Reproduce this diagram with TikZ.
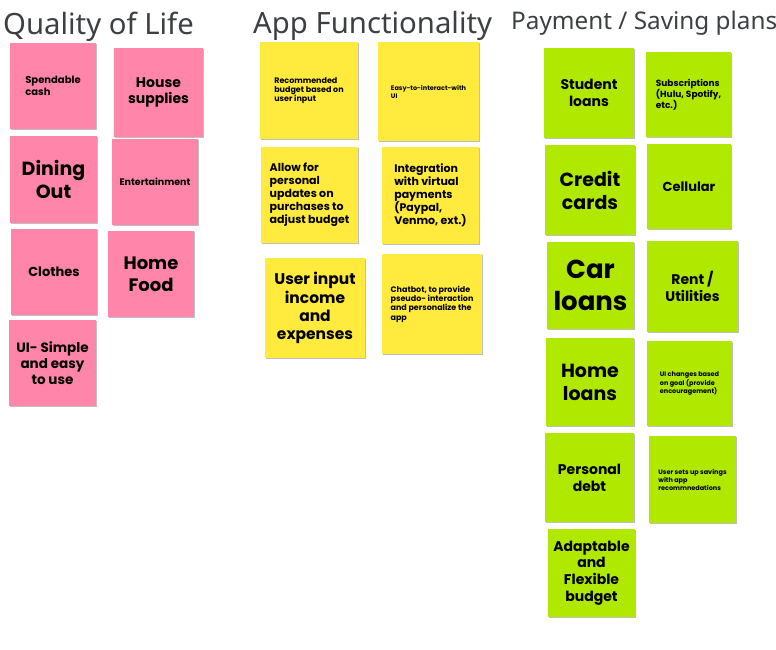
\documentclass[tikz,border=0pt]{standalone}
\usepackage{fontspec}
\setmainfont{Poppins}
\newfontfamily\titlefont{Noto Sans}
\usetikzlibrary{shadows}

\definecolor{notepink}{HTML}{FF85AA}
\definecolor{noteyellow}{HTML}{FFEA3D}
\definecolor{notegreen}{HTML}{B0E800}
\definecolor{titlegray}{HTML}{3D4043}

\newcommand{\notesize}[2]{\bfseries\fontsize{#1}{#2}\selectfont}

\begin{document}
\begin{tikzpicture}[x=1pt, y=-1pt,
    note/.style={inner sep=0pt, align=center,
        drop shadow={shadow xshift=0.6pt, shadow yshift=-1.2pt, opacity=0.25, fill=black}},
    pinknote/.style={note, fill=notepink},
    yellownote/.style={note, fill=noteyellow},
    greennote/.style={note, fill=notegreen},
    boardtitle/.style={anchor=base west, inner sep=0pt, text=titlegray}]

    \useasboundingbox (0,0) rectangle (776,649);

    % column titles
    \node (qol) at (3,34) [boardtitle, font=\titlefont\fontsize{29.3}{34}\selectfont] {Quality of Life};
    \node (app) at (253,33) [boardtitle, font=\titlefont\fontsize{29.3}{34}\selectfont] {App Functionality};
    \node (pay) at (511,29) [boardtitle, font=\titlefont\fontsize{24.3}{28}\selectfont] {Payment / Saving plans};

    % quality of life
    \node (spend) at (53,86) [pinknote, minimum width=86, minimum height=86, align=left, font={\notesize{10}{12}}] {Spendable\\cash};
    \node (house) at (158.5,92.5) [pinknote, minimum width=89, minimum height=89, font={\notesize{14}{16}}] {House\\supplies};
    \node (dining) at (53.5,179.5) [pinknote, minimum width=87, minimum height=87, font={\notesize{19}{23}}] {Dining\\Out};
    \node (enter) at (155,182) [pinknote, minimum width=86, minimum height=86, font={\notesize{9.5}{12}}] {Entertainment};
    \node (clothes) at (54,272) [pinknote, minimum width=86, minimum height=86, font={\notesize{13}{16}}] {Clothes};
    \node (homefood) at (151,274) [pinknote, minimum width=86, minimum height=86, font={\notesize{18}{22}}] {Home\\Food};
    \node (uisimple) at (52.5,363) [pinknote, minimum width=87, minimum height=86, font={\notesize{13.5}{16}}] {UI- Simple\\and easy\\to use};

    % app functionality
    \node (recom) at (309,90.5) [yellownote, minimum width=98, minimum height=97, align=left, font={\notesize{8}{9.3}}] {Recommended\\budget based on\\user input};
    \node (easy) at (428.5,91.5) [yellownote, minimum width=101, minimum height=99, align=left, font={\notesize{6.5}{8}}] {Easy-to-interact-with\\UI};
    \node (allow) at (309.5,195) [yellownote, minimum width=97, minimum height=96, align=left, font={\notesize{11}{13}}] {Allow for\\personal\\updates on\\purchases to\\adjust budget};
    \node (integ) at (430.5,195.5) [yellownote, minimum width=97, minimum height=97, align=left, font={\notesize{11}{13}}] {Integration\\with virtual\\payments\\(Paypal,\\Venmo, ext.)};
    \node (userin) at (315,308) [yellownote, minimum width=100, minimum height=100, font={\notesize{15.5}{18.3}}] {User input\\income\\and\\expenses};
    \node (chat) at (432,304) [yellownote, minimum width=100, minimum height=100, align=left, font={\notesize{8}{9.3}}] {Chatbot, to provide\\pseudo- interaction\\and personalize the\\app};

    % payment / saving plans
    \node (student) at (589,93) [greennote, minimum width=90, minimum height=90, font={\notesize{14}{16.7}}] {Student\\loans};
    \node (subs) at (688.5,94.5) [greennote, minimum width=85, minimum height=85, align=left, font={\notesize{9}{11}}] {Subscriptions\\(Hulu, Spotify,\\etc.)};
    \node (credit) at (590,190) [greennote, minimum width=90, minimum height=90, font={\notesize{19}{23}}] {Credit\\cards};
    \node (cell) at (689,186.5) [greennote, minimum width=84, minimum height=85, font={\notesize{13}{16}}] {Cellular};
    \node (car) at (590.5,285.5) [greennote, minimum width=87, minimum height=87, font={\notesize{26}{32}}] {Car\\loans};
    \node (rent) at (692.5,286.5) [greennote, minimum width=91, minimum height=91, font={\notesize{14}{17}}] {Rent /\\Utilities};
    \node (homeloan) at (590,382) [greennote, minimum width=88, minimum height=88, font={\notesize{19}{23}}] {Home\\loans};
    \node (uichg) at (689.5,383.5) [greennote, minimum width=85, minimum height=85, align=left, font={\notesize{6.5}{7.7}}] {UI changes based\\on goal (provide\\encouragement)};
    \node (personal) at (589.5,477.5) [greennote, minimum width=89, minimum height=89, font={\notesize{14}{17}}] {Personal\\debt};
    \node (usersets) at (692.5,479.5) [greennote, minimum width=87, minimum height=87, align=left, font={\notesize{6.5}{8}}] {User sets up savings\\with app\\recommnedations};
    \node (adapt) at (591.5,573) [greennote, minimum width=87, minimum height=88, font={\notesize{14}{16.7}}] {Adaptable\\and\\Flexible\\budget};

\end{tikzpicture}
\end{document}
